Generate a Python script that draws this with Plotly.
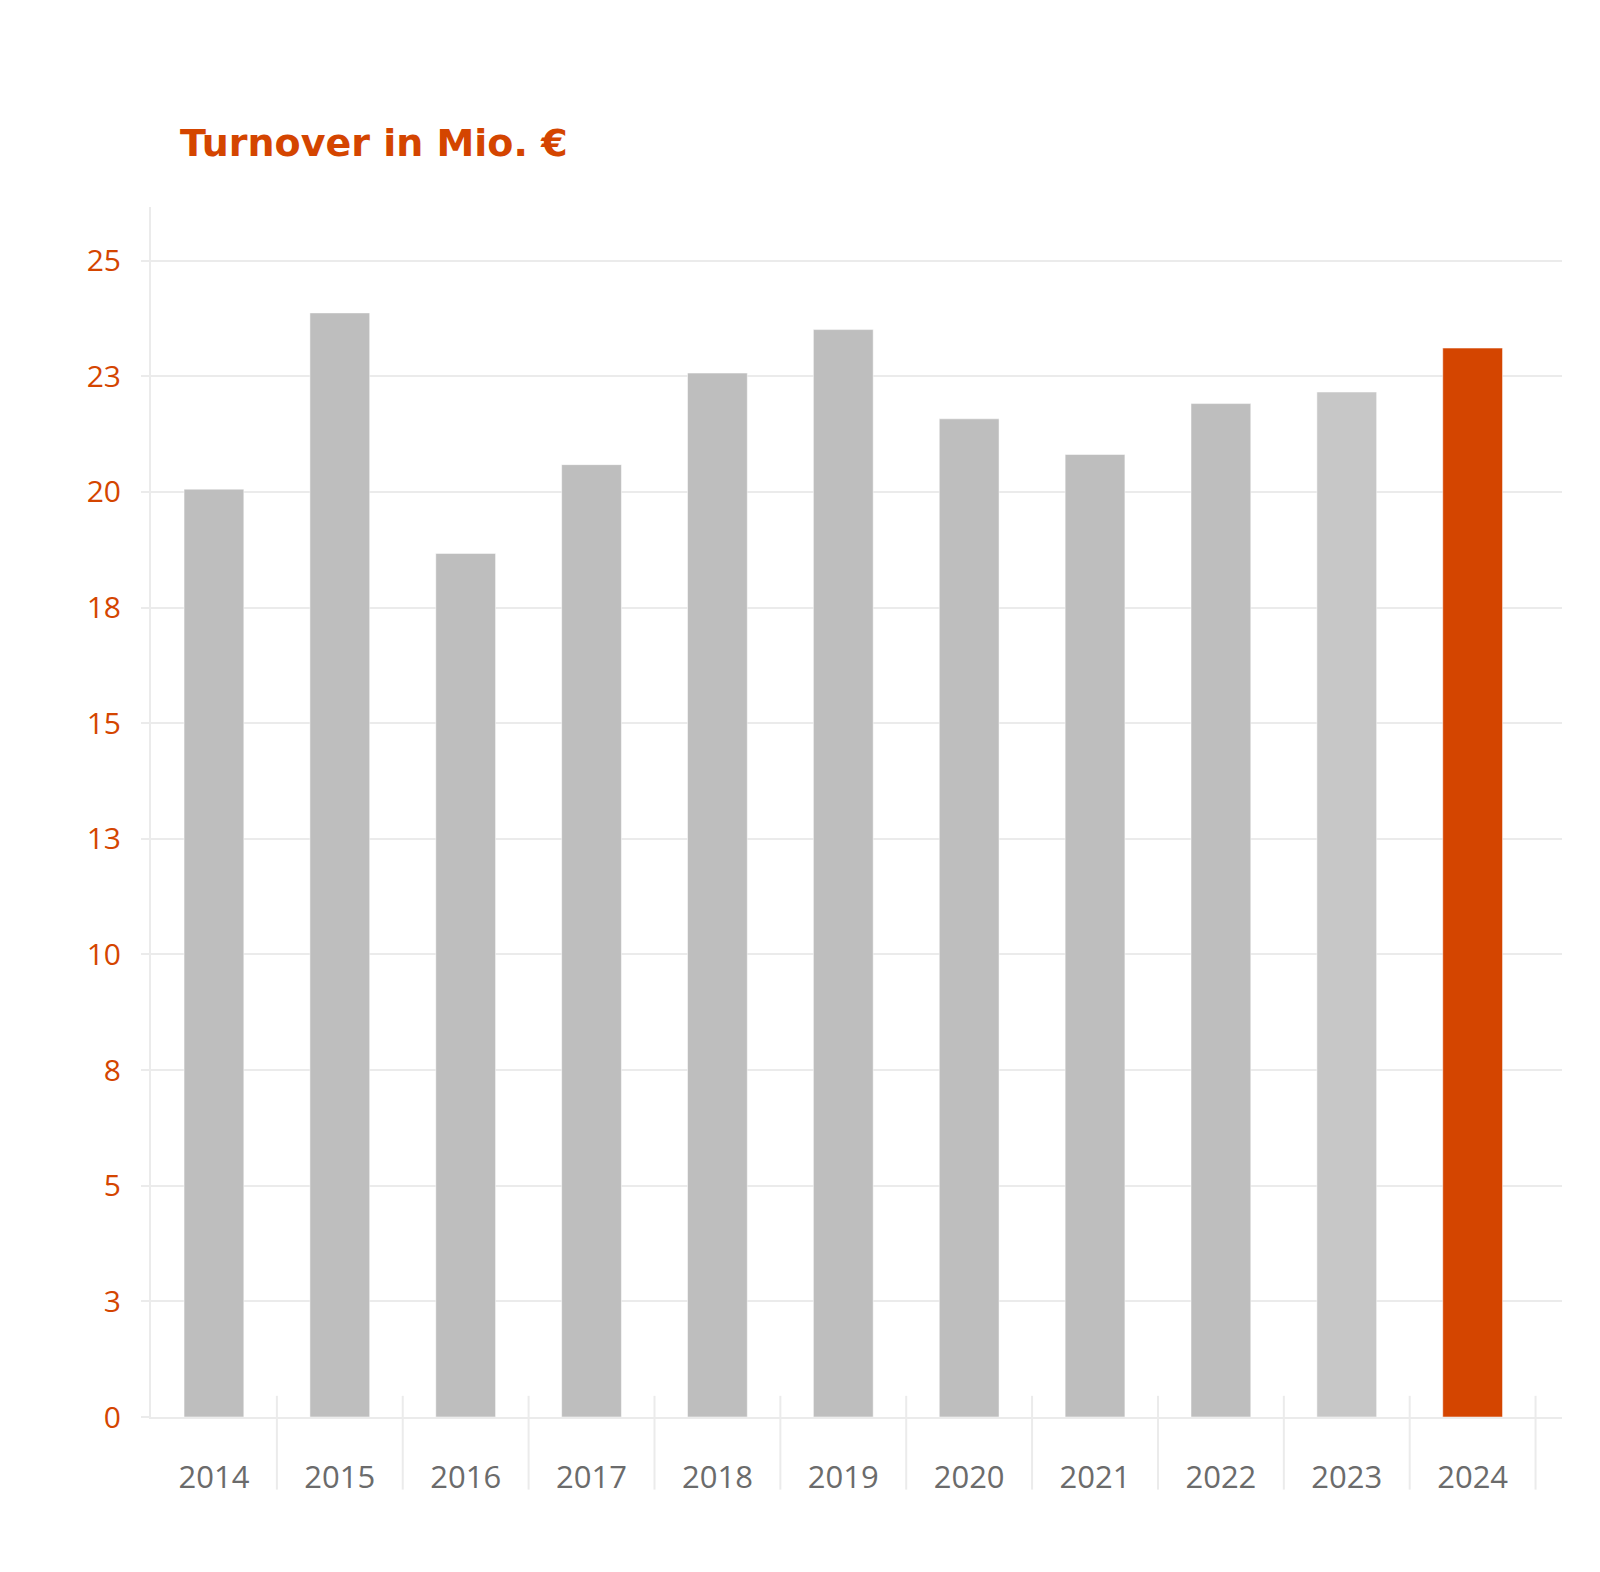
import plotly.graph_objects as go

# Umsatz in Mio. Euro pro Jahr
years = ["2014", "2015", "2016", "2017", "2018", "2019", "2020", "2021", "2022", "2023", "2024"]
turnover = [20.06, 23.87, 18.67, 20.59, 22.57, 23.51, 21.58, 20.81, 21.91, 22.16, 23.11]
bar_colors = ["#bebebe"] * 9 + ["#c7c7c7", "#d44500"]

y_tickvals = [0, 2.5, 5, 7.5, 10, 12.5, 15, 17.5, 20, 22.5, 25]
y_ticktext = ["0", "3", "5", "8", "10", "13", "15", "18", "20", "23", "25"]

orange = "#d44500"
grid = "#ebebeb"
font_family = "Open Sans, Noto Sans, sans-serif"

fig = go.Figure()
fig.add_trace(go.Bar(
    x=years, y=turnover,
    marker=dict(color=bar_colors, line=dict(color="rgba(255,255,255,0.5)", width=1)),
    width=0.475,
    hoverinfo="x+y",
))

# Trennlinien zwischen den Jahren
for i in range(len(years)):
    fig.add_shape(type="line", xref="x", yref="paper",
                  x0=i + 0.5, x1=i + 0.5, y0=-0.06, y1=0.0175,
                  line=dict(color=grid, width=2), layer="below")

fig.update_layout(
    width=1600, height=1572,
    margin=dict(l=143, r=46, t=199, b=163),
    paper_bgcolor="white", plot_bgcolor="white",
    showlegend=False,
    font=dict(family=font_family),
    title=dict(text="<b>Turnover in Mio. €</b>", xref="container", yref="container",
               x=0.1075, xanchor="left", y=0.914, yanchor="middle",
               font=dict(size=38, color=orange, family="DejaVu Sans, Open Sans, sans-serif")),
)

fig.update_xaxes(
    type="category",
    range=[-0.5, 10.71],
    showline=True, linecolor=grid, linewidth=2,
    showgrid=False, ticks="",
    tickfont=dict(size=31, color="#6b6b6b"),
    ticklabelstandoff=32,
)

fig.update_yaxes(
    range=[0, 26.16],
    tickvals=y_tickvals, ticktext=y_ticktext,
    showgrid=True, gridcolor=grid, gridwidth=2,
    showline=True, linecolor=grid, linewidth=2,
    zeroline=False,
    ticks="outside", ticklen=8, tickcolor=grid, tickwidth=2,
    tickfont=dict(size=30, color=orange),
    ticklabelstandoff=14,
)

fig.write_html("out.html")
